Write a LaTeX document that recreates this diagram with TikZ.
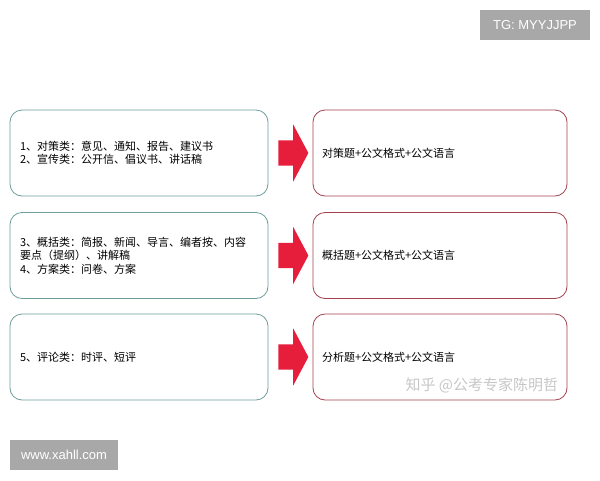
\documentclass[tikz,border=0pt]{standalone}
\usepackage{fontspec}
\newfontfamily\cjk{Noto Sans CJK SC}
\newfontfamily\wmfont{Liberation Sans}
\usetikzlibrary{shapes.arrows}

\definecolor{leftline}{HTML}{6E9E9C}
\definecolor{rightline}{HTML}{A3424E}
\definecolor{arrowred}{HTML}{E61E3C}
\definecolor{wmgray}{HTML}{A8A8A8}

\begin{document}
\begin{tikzpicture}[x=1pt,y=-1pt,
    font=\cjk\fontsize{11}{13.5}\selectfont]

        \useasboundingbox[fill=white] (0,0) rectangle (600,480);

        % left boxes
        \begin{scope}[every node/.style={draw=leftline, line width=.8pt, rounded corners=12pt,
            minimum width=258pt, minimum height=86pt, inner xsep=10pt,
            text width=238pt, align=left}]
          \node (l1) at (139,153)   {1、对策类：意见、通知、报告、建议书\\2、宣传类：公开信、倡议书、讲话稿};
          \node (l2) at (139,255.5) {3、概括类：简报、新闻、导言、编者按、内容\\要点（提纲）、讲解稿\\4、方案类：问卷、方案};
          \node (l3) at (139,357)   {5、评论类：时评、短评};
        \end{scope}

        % right boxes
        \begin{scope}[every node/.style={draw=rightline, line width=.8pt, rounded corners=12pt,
            minimum width=254pt, minimum height=86pt, inner xsep=9pt,
            text width=236pt, align=left}]
          \node (r1) at (440,153)   {对策题+公文格式+公文语言};
          \node (r2) at (440,255.5) {概括题+公文格式+公文语言};
          \node (r3) at (440,357)   {分析题+公文格式+公文语言};
        \end{scope}

        % arrows
        \begin{scope}[every node/.style={single arrow, fill=arrowred, draw=none,
            inner xsep=0pt, inner ysep=12.5pt, minimum height=30pt,
            single arrow head extend=16pt, single arrow tip angle=124}]
          \node (a1) at (290,153)   {};
          \node (a2) at (290,255.5) {};
          \node (a3) at (290,357)   {};
        \end{scope}

        % marks
        \node[fill=wmgray, text=white, font=\wmfont\fontsize{13}{15}\selectfont,
          minimum width=110pt, minimum height=30pt] (tg) at (535,25) {TG: MYYJJPP};
        \node[fill=wmgray, text=white, font=\wmfont\fontsize{13}{15}\selectfont,
          minimum width=108pt, minimum height=30pt] (web) at (64,455) {www.xahll.com};
        \node[text=black!22, font=\cjk\fontsize{15}{18}\selectfont, anchor=west]
          (zh) at (402,385) {知乎 @公考专家陈明哲};

      \end{tikzpicture}
\end{document}
